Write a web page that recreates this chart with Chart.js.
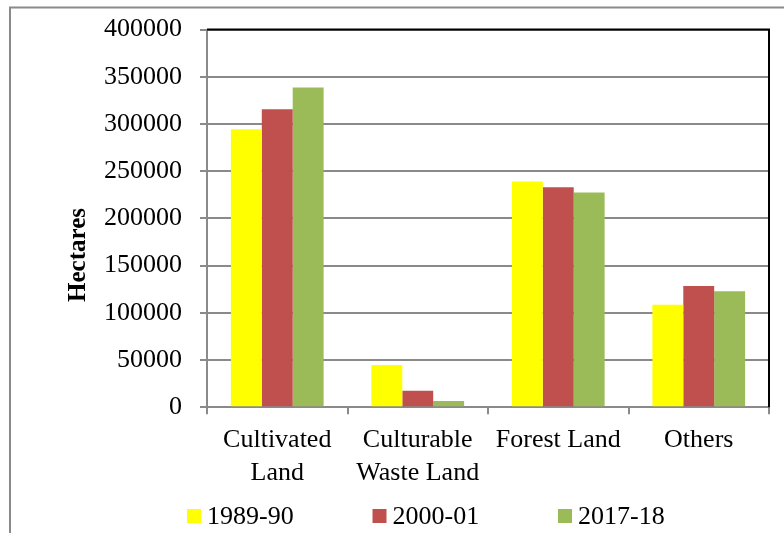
<!DOCTYPE html>
<html>
<head>
<meta charset="utf-8">
<script src="https://cdn.jsdelivr.net/npm/chart.js@4/dist/chart.umd.min.js"></script>
<style>
  html, body { margin: 0; padding: 0; background: #ffffff; }
  #wrap { width: 784px; height: 533px; position: relative; }
</style>
</head>
<body>
<div id="wrap"><canvas id="c" width="784" height="533"></canvas></div>
<script>
// Land use categories (multi-line labels)
const categories = [['Cultivated', 'Land'], ['Culturable', 'Waste Land'], 'Forest Land', 'Others'];
// Series values, hectares
const series1989 = [294500, 44800, 239000, 108500];
const series2000 = [315500, 17600, 233000, 128500];
const series2017 = [338500, 6700, 227500, 123000];
const seriesNames = ['1989-90', '2000-01', '2017-18'];
const seriesColors = ['#FFFF00', '#C0504D', '#9BBB59'];
const axisTitle = 'Hectares';
const yMax = 400000;
const yStep = 50000;

const FONT = '"Liberation Serif", "Times New Roman", serif';
const GRID = '#8a8a8a';

// Outer frame, plot border (top/right), rotated axis title and legend row
const decor = {
  id: 'decor',
  beforeDraw(chart) {
    const ctx = chart.ctx;
    ctx.save();
    ctx.fillStyle = '#ffffff';
    ctx.fillRect(0, 0, chart.width, chart.height);
    ctx.strokeStyle = GRID;
    ctx.lineWidth = 2;
    ctx.strokeRect(10, 7.5, 900, 700);
    ctx.restore();
  },
  afterDraw(chart) {
    const ctx = chart.ctx;
    const a = chart.chartArea;
    ctx.save();
    ctx.strokeStyle = '#000000';
    ctx.lineWidth = 2;
    ctx.beginPath();
    ctx.moveTo(a.left, a.top);
    ctx.lineTo(a.right, a.top);
    ctx.lineTo(a.right, a.bottom);
    ctx.stroke();

    // axis title
    ctx.fillStyle = '#000000';
    ctx.font = 'bold 25px ' + FONT;
    ctx.textAlign = 'center';
    ctx.textBaseline = 'middle';
    ctx.translate(79, 255);
    ctx.rotate(-Math.PI / 2);
    ctx.fillText(axisTitle, 0, 0);
    ctx.restore();

    // legend
    ctx.save();
    ctx.font = '26px ' + FONT;
    ctx.textBaseline = 'middle';
    ctx.textAlign = 'left';
    chart.data.datasets.forEach((ds, i) => {
      const x = 187 + i * 185.5;
      const yMid = 516;
      ctx.fillStyle = ds.backgroundColor;
      ctx.fillRect(x, yMid - 7, 14, 14);
      ctx.fillStyle = '#000000';
      ctx.fillText(ds.label, x + 20, yMid + 1);
    });
    ctx.restore();
  }
};

const datasets = [series1989, series2000, series2017].map((vals, i) => ({
  label: seriesNames[i],
  data: vals,
  backgroundColor: seriesColors[i],
  borderWidth: 0,
  barPercentage: 1,
  categoryPercentage: 0.66
}));

new Chart(document.getElementById('c'), {
  type: 'bar',
  data: { labels: categories, datasets },
  plugins: [decor],
  options: {
    responsive: false,
    animation: false,
    devicePixelRatio: 1,
    layout: { padding: { top: 29.5, right: 15, left: 0, bottom: 0 } },
    plugins: {
      legend: { display: false },
      tooltip: { enabled: false }
    },
    scales: {
      x: {
        grid: {
          offset: true,
          drawOnChartArea: false,
          drawTicks: true,
          tickLength: 7,
          color: GRID,
          lineWidth: 2
        },
        border: { display: true, color: GRID, width: 2 },
        ticks: {
          color: '#000000',
          font: { family: FONT, size: 26, lineHeight: 1.27 },
          padding: 9,
          maxRotation: 0,
          autoSkip: false
        },
        afterFit(scale) {
          scale.height = 125.7;
          scale.paddingLeft = 0;
          scale.paddingRight = 0;
        }
      },
      y: {
        min: 0,
        max: yMax,
        grid: {
          color: GRID,
          lineWidth: 2,
          drawTicks: true,
          tickLength: 7
        },
        border: { display: true, color: GRID, width: 2 },
        ticks: {
          stepSize: yStep,
          color: '#000000',
          font: { family: FONT, size: 26 },
          padding: 18,
          callback: v => String(v)
        },
        afterFit(scale) {
          scale.width = 207;
          scale.paddingTop = 0;
          scale.paddingBottom = 0;
        }
      }
    }
  }
});
</script>
</body>
</html>
